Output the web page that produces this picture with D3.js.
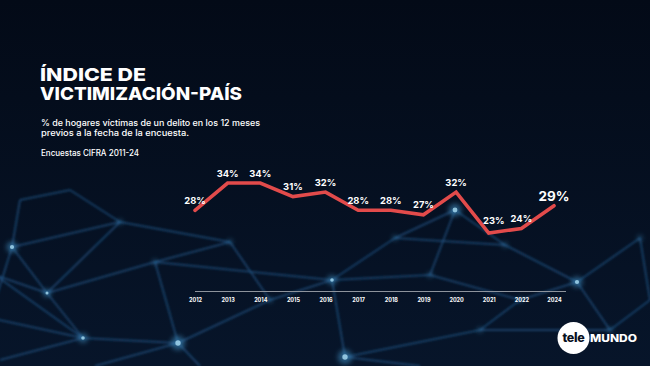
<!DOCTYPE html>
<html>
<head>
<meta charset="utf-8">
<script src="https://cdn.jsdelivr.net/npm/d3@7"></script>
<style>
  html, body { margin: 0; padding: 0; background: #040c1a; }
  svg { display: block; font-family: Inter, "Open Sans", sans-serif; }
</style>
</head>
<body>
<div id="chart"></div>
<script>
const years = ["2012", "2013", "2014", "2015", "2016", "2017", "2018", "2019", "2020", "2021", "2022", "2024"];
const values = [28, 34, 34, 31, 32, 28, 28, 27, 32, 23, 24, 29];

const title = ["ÍNDICE DE", "VICTIMIZACIÓN-PAÍS"];
const subtitle = ["% de hogares víctimas de un delito en los 12 meses", "previos a la fecha de la encuesta."];
const source = "Encuestas CIFRA 2011-24";

// background network (decoration only)
const bgNodes = [
  [12, 247, 3.5], [47, 293, 2.5], [83, 338, 3], [178, 343, 4.5], [332, 280, 3],
  [577, 282, 3.5], [345, 357, 4.5], [455, 210, 4], [230, 242, 1.5], [120, 222, 1.5],
  [155, 262, 1.5], [270, 300, 1.5], [395, 238, 1.5], [430, 275, 1.5], [505, 245, 1.5],
  [640, 238, 1.5], [610, 330, 1.5], [520, 300, 1.5], [-10, 318, 0], [480, 330, 1.5],
  [650, 300, 0], [0, 360, 0], [200, 366, 0], [420, 366, 0], [95, 366, 0],
  [20, 200, 0], [70, 190, 0], [-5, 275, 0]
];
const bgEdges = [
  [0, 1], [0, 9], [0, 18], [1, 2], [1, 10], [1, 9], [2, 3], [2, 18], [2, 21], [10, 3],
  [10, 8], [9, 8], [8, 11], [3, 11], [11, 4], [4, 12], [4, 13], [12, 7], [13, 7],
  [4, 6], [3, 22], [6, 23], [6, 19], [13, 17], [17, 5], [7, 14], [14, 5], [5, 15],
  [5, 16], [16, 20], [19, 17], [12, 14], [4, 10], [15, 20], [3, 24], [19, 16],
  [0, 25], [25, 26], [26, 9], [27, 1], [27, 2]
];

const W = 650, H = 366;
const svg = d3.select("#chart").append("svg")
  .attr("width", W).attr("height", H);

const defs = svg.append("defs");
const bg = defs.append("linearGradient").attr("id", "bg")
  .attr("x1", 0).attr("y1", 0).attr("x2", 0).attr("y2", 1);
bg.append("stop").attr("offset", "0%").attr("stop-color", "#030a17");
bg.append("stop").attr("offset", "100%").attr("stop-color", "#07152a");
defs.append("filter").attr("id", "blur").append("feGaussianBlur").attr("stdDeviation", 1.3);
defs.append("filter").attr("id", "glow").append("feGaussianBlur").attr("stdDeviation", 2.5);

svg.append("rect").attr("width", W).attr("height", H).attr("fill", "url(#bg)");

const net = svg.append("g");
net.append("g").attr("filter", "url(#blur)")
  .selectAll("line").data(bgEdges).join("line")
  .attr("x1", d => bgNodes[d[0]][0]).attr("y1", d => bgNodes[d[0]][1])
  .attr("x2", d => bgNodes[d[1]][0]).attr("y2", d => bgNodes[d[1]][1])
  .attr("stroke", "#24588a").attr("stroke-opacity", 0.6).attr("stroke-width", 2);
const lit = bgNodes.filter(d => d[2] > 0);
net.append("g").attr("filter", "url(#glow)")
  .selectAll("circle").data(lit).join("circle")
  .attr("cx", d => d[0]).attr("cy", d => d[1]).attr("r", d => d[2] * 1.6)
  .attr("fill", "#3f8fc4").attr("fill-opacity", 0.55);
net.append("g")
  .selectAll("circle").data(lit.filter(d => d[2] > 2)).join("circle")
  .attr("cx", d => d[0]).attr("cy", d => d[1]).attr("r", d => d[2] * 0.6)
  .attr("fill", "#a9dcf2").attr("fill-opacity", 0.8);

// titles
const head = svg.append("g").attr("fill", "#fff");
head.selectAll("text.title").data(title).join("text")
  .attr("class", "title")
  .attr("font-size", 18).attr("font-weight", 800)
  .attr("x", 40).attr("y", (d, i) => 81 + i * 18.5)
  .attr("textLength", (d, i) => i ? 202 : 106).attr("lengthAdjust", "spacingAndGlyphs")
  .text(d => d);
head.append("text")
  .attr("font-size", 8.3).attr("font-weight", 500)
  .selectAll("tspan").data(subtitle).join("tspan")
  .attr("x", 41).attr("y", (d, i) => 126 + i * 9.5)
  .attr("textLength", (d, i) => i ? 148 : 219).attr("lengthAdjust", "spacingAndGlyphs")
  .text(d => d);
head.append("text")
  .attr("x", 41).attr("y", 155.5)
  .attr("font-size", 8.3).attr("font-weight", 500)
  .attr("textLength", 98).attr("lengthAdjust", "spacingAndGlyphs")
  .text(source);

// chart
const x = d3.scalePoint().domain(years).range([195, 554]);
const y = d3.scaleLinear().domain([23, 34]).range([233, 183]);

svg.append("line")
  .attr("x1", x.range()[0]).attr("x2", x.range()[1] + 12)
  .attr("y1", 291.5).attr("y2", 291.5)
  .attr("stroke", "#8d939c").attr("stroke-width", 1);

const axis = svg.append("g")
  .attr("transform", "translate(0,291.5)")
  .call(d3.axisBottom(x).tickSize(0).tickPadding(7));
axis.select(".domain").remove();
axis.selectAll("text")
  .attr("fill", "#fff").attr("font-size", 5.5).attr("font-weight", 700)
  .attr("font-family", "Inter, sans-serif");

const line = d3.line().x((d, i) => x(years[i])).y(d => y(d));
svg.append("path").datum(values)
  .attr("d", line)
  .attr("fill", "none").attr("stroke", "#e24b4b")
  .attr("stroke-width", 3.6).attr("stroke-linejoin", "miter").attr("stroke-linecap", "round");

const last = values.length - 1;
svg.append("g").selectAll("text").data(values).join("text")
  .attr("x", (d, i) => x(years[i]) + (i === 9 ? 5 : 0))
  .attr("y", (d, i) => y(d) - (i === last ? 5 : i === 9 ? 9 : 6.5))
  .attr("text-anchor", "middle")
  .attr("fill", "#fff")
  .attr("font-size", (d, i) => i === last ? 13.5 : 9.4)
  .attr("font-weight", 700)
  .text(d => d + "%");

// logo
const logo = svg.append("g");
logo.append("circle").attr("cx", 573.5).attr("cy", 338).attr("r", 16).attr("fill", "#fff");
logo.append("text").attr("x", 573.5).attr("y", 342)
  .attr("text-anchor", "middle").attr("fill", "#08101e")
  .attr("font-size", 12.5).attr("font-weight", 800).attr("letter-spacing", -0.3)
  .text("tele");
logo.append("text").attr("x", 590).attr("y", 341.5)
  .attr("fill", "#fff").attr("font-size", 10.5).attr("font-weight", 800)
  .attr("textLength", 47).attr("lengthAdjust", "spacingAndGlyphs")
  .text("MUNDO");
</script>
</body>
</html>
